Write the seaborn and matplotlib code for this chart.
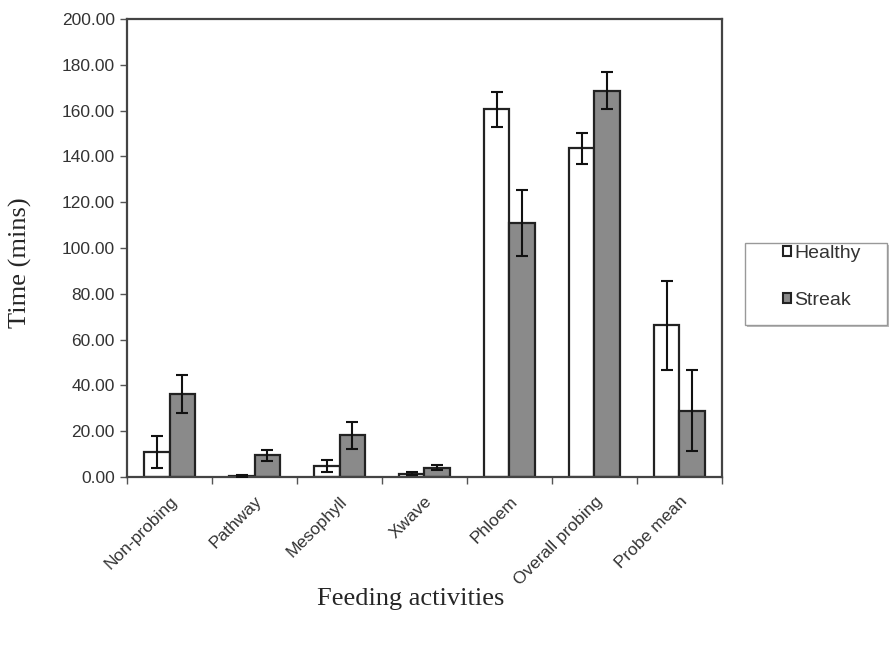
import pandas as pd
import numpy as np
import matplotlib.pyplot as plt
import seaborn as sns

# feeding activities on the x axis
activities = ["Non-probing", "Pathway", "Mesophyll", "Xwave", "Phloem",
              "Overall probing", "Probe mean"]
groups = ["Healthy", "Streak"]

# mean time (mins) and error (+/-)
healthy_mean = [11.0, 0.5, 4.8, 1.4, 160.6, 143.5, 66.2]
healthy_err = [7.0, 0.3, 2.8, 0.6, 7.7, 6.7, 19.3]
streak_mean = [36.3, 9.5, 18.2, 4.1, 110.8, 168.7, 29.0]
streak_err = [8.3, 2.3, 6.0, 1.0, 14.4, 8.2, 17.8]

yticks = [0, 20, 40, 60, 80, 100, 120, 140, 160, 180, 200]


def build_frame():
    df = pd.DataFrame({
        "Activity": activities * 2,
        "Group": [groups[0]] * len(activities) + [groups[1]] * len(activities),
        "Time": healthy_mean + streak_mean,
        "Err": healthy_err + streak_err,
    })
    return df


def plot_bars(df):
    sns.set_style("white")
    plt.rcParams["font.family"] = ["Liberation Sans", "DejaVu Sans"]

    fig = plt.figure(figsize=(8.89, 6.64), dpi=100)
    ax = fig.add_axes([0.143, 0.2816, 0.669, 0.6898])

    sns.barplot(
        data=df, x="Activity", y="Time", hue="Group",
        order=activities, hue_order=groups,
        palette={"Healthy": "white", "Streak": "#8a8a8a"},
        edgecolor="#222222", linewidth=1.6, width=0.6,
        errorbar=None, legend=False, ax=ax,
    )

    # error bars on top of each bar
    errs = {"Healthy": healthy_err, "Streak": streak_err}
    for cont, g in zip(ax.containers, groups):
        xs = [p.get_x() + p.get_width() / 2 for p in cont.patches]
        ys = [p.get_height() for p in cont.patches]
        ax.errorbar(xs, ys, yerr=errs[g], fmt="none", ecolor="#111111",
                    elinewidth=1.5, capsize=4, capthick=1.5, zorder=5)

    ax.set_ylim(0, 200)
    ax.set_xlim(-0.5, len(activities) - 0.5)
    ax.set_yticks(yticks)
    ax.set_yticklabels([f"{v:.2f}" for v in yticks], fontsize=12.5, color="#333333")
    ax.set_xticks(np.arange(len(activities)))
    ax.set_xticklabels(activities, rotation=45, ha="right", rotation_mode="anchor",
                       fontsize=12.5, color="#333333")
    ax.tick_params(axis="x", length=0, pad=12)
    ax.set_xticks(np.arange(len(activities) + 1) - 0.5, minor=True)
    ax.tick_params(axis="x", which="minor", length=5, width=1, color="#555555",
                   direction="out", bottom=True)
    ax.tick_params(axis="y", length=5, width=1, color="#555555", direction="out",
                   left=True, pad=4)

    for s in ax.spines.values():
        s.set_visible(True)
        s.set_color("#444444")
        s.set_linewidth(1.6)

    ax.set_xlabel("Feeding activities", family="Liberation Serif", fontsize=19)
    ax.set_ylabel("Time (mins)", family="Liberation Serif", fontsize=19)
    ax.xaxis.set_label_coords(0.476, -0.243)
    ax.yaxis.set_label_coords(-0.16, 0.467)

    # legend box drawn as a fixed frame with a soft shadow
    W, H = fig.bbox.width, fig.bbox.height
    x0, y0, w, h = 745 / W, 1 - 325 / H, 142 / W, 82 / H
    shadow = plt.Rectangle((x0 + 2 / W, y0 - 2 / H), w, h, transform=fig.transFigure,
                           facecolor="#bbbbbb", edgecolor="none", zorder=1)
    frame = plt.Rectangle((x0, y0), w, h, transform=fig.transFigure,
                          facecolor="white", edgecolor="#999999", lw=1.0, zorder=2)
    fig.patches.extend([shadow, frame])

    handles = [plt.Rectangle((0, 0), 1, 1, facecolor="white", edgecolor="#222222", lw=1.5),
               plt.Rectangle((0, 0), 1, 1, facecolor="#8a8a8a", edgecolor="#222222", lw=1.5)]
    leg = fig.legend(handles, groups, loc="upper left",
                     bbox_to_anchor=(777 / W, 1 - 239 / H),
                     fontsize=14, frameon=False,
                     handlelength=0.42, handleheight=0.42, handletextpad=0.15,
                     labelspacing=1.55, borderpad=0.3, borderaxespad=0)
    leg.set_zorder(3)
    for t in leg.get_texts():
        t.set_color("#333333")

    fig.savefig("out.png", dpi=100)


if __name__ == "__main__":
    df = build_frame()
    plot_bars(df)
